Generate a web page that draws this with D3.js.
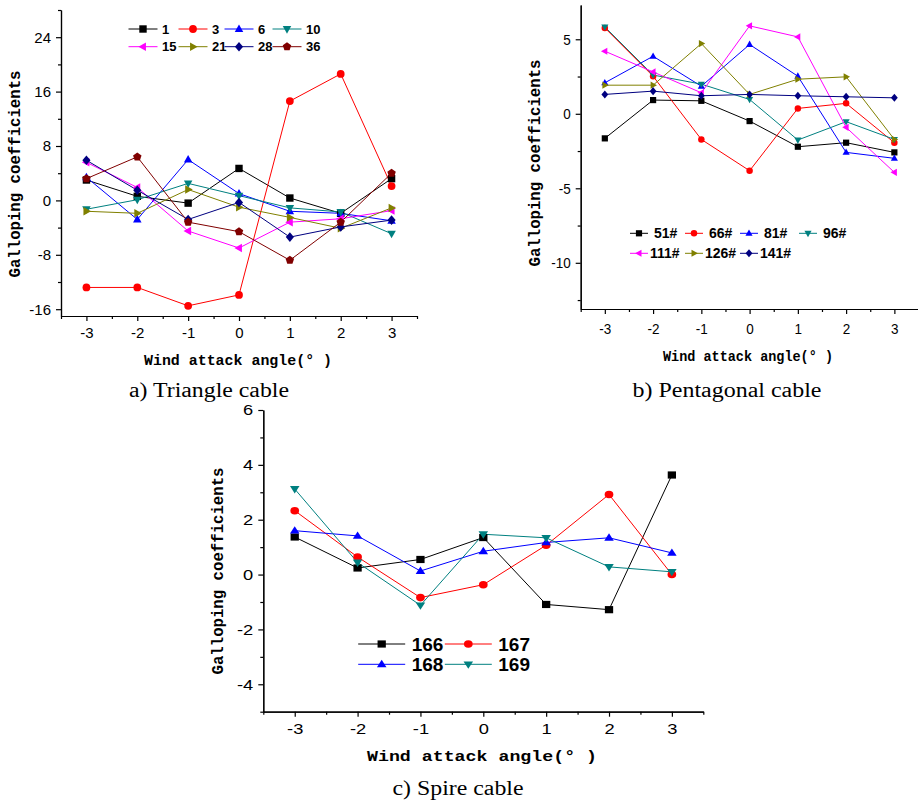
<!DOCTYPE html>
<html>
<head>
<meta charset="utf-8">
<script src="https://cdn.jsdelivr.net/npm/d3@7"></script>
<style>
  body { margin: 0; background: #fff; }
  svg { display: block; }
  .legend text { white-space: pre; }
</style>
</head>
<body>
<div id="fig"></div>
<script>
// wind attack angles (x categories)
var angles = [-3, -2, -1, 0, 1, 2, 3];

// a) Triangle cable
var triLabels = ["1", "3", "6", "10", "15", "21", "28", "36"];
var tri1  = [3.0, 0.6, -0.4, 4.7, 0.35, -1.9, 3.2];
var tri3  = [-12.8, -12.8, -15.5, -13.9, 14.6, 18.6, 2.1];
var tri6  = [3.4, -2.8, 6.0, 1.0, -1.6, -1.9, -3.0];
var tri10 = [-1.3, 0.1, 2.5, 0.7, -1.1, -1.7, -4.9];
var tri15 = [5.6, 1.9, -4.5, -7.0, -3.2, -2.7, -1.5];
var tri21 = [-1.6, -1.9, 1.6, -1.0, -2.5, -4.1, -1.1];
var tri28 = [5.9, 1.5, -2.8, -0.3, -5.4, -3.9, -2.9];
var tri36 = [3.2, 6.4, -3.2, -4.6, -8.8, -3.2, 4.0];
var triYTicks = [-16, -8, 0, 8, 16, 24];

// b) Pentagonal cable
var pentLabels = [" 51#", " 66#", " 81#", " 96#", "111#", "126#", "141#"];
var pent51  = [-1.65, 0.92, 0.87, -0.49, -2.21, -1.94, -2.59];
var pent66  = [5.76, 2.52, -1.72, -3.82, 0.36, 0.70, -1.94];
var pent81  = [2.08, 3.86, 1.85, 4.65, 2.52, -2.59, -2.99];
var pent96  = [5.83, 2.60, 1.99, 0.96, -1.76, -0.53, -1.72];
var pent111 = [4.20, 2.81, 1.41, 5.90, 5.16, -0.91, -3.93];
var pent126 = [1.92, 1.92, 4.71, 1.30, 2.32, 2.48, -1.72];
var pent141 = [1.30, 1.52, 1.21, 1.30, 1.21, 1.14, 1.07];
var pentYTicks = [-10, -5, 0, 5];

// c) Spire cable
var spireLabels = ["166", "167", "168", "169"];
var spire166 = [1.37, 0.24, 0.55, 1.35, -1.09, -1.28, 3.63];
var spire167 = [2.33, 0.64, -0.84, -0.37, 1.07, 2.92, 0.0];
var spire168 = [1.60, 1.41, 0.13, 0.85, 1.17, 1.34, 0.79];
var spire169 = [3.12, 0.44, -1.12, 1.47, 1.34, 0.28, 0.10];
var spireYTicks = [-4, -2, 0, 2, 4, 6];

// origin-style colours and symbols, in legend order
var colors = ["#000000", "#ff0000", "#0000ff", "#008080", "#ff00ff", "#808000", "#000080", "#800000"];
var shapes = ["square", "circle", "up", "down", "left", "right", "diamond", "pentagon"];

var svg = d3.select("#fig").append("svg")
    .attr("width", 918)
    .attr("height", 801);

// plain hyphen minus like the original
var plain = function(d) { return String(d); };

// marker path centred on 0,0
function markerPath(shape, r) {
    switch (shape) {
        case "square": return "M" + (-r) + "," + (-r) + "H" + r + "V" + r + "H" + (-r) + "Z";
        case "circle": return d3.symbol(d3.symbolCircle, Math.PI * r * r * 1.1)();
        case "up": return "M0," + (-r * 1.25) + "L" + (r * 1.15) + "," + (r * 0.8) + "L" + (-r * 1.15) + "," + (r * 0.8) + "Z";
        case "down": return "M0," + (r * 1.25) + "L" + (r * 1.15) + "," + (-r * 0.8) + "L" + (-r * 1.15) + "," + (-r * 0.8) + "Z";
        case "left": return "M" + (-r * 1.25) + ",0L" + (r * 0.8) + "," + (-r * 1.15) + "L" + (r * 0.8) + "," + (r * 1.15) + "Z";
        case "right": return "M" + (r * 1.25) + ",0L" + (-r * 0.8) + "," + (-r * 1.15) + "L" + (-r * 0.8) + "," + (r * 1.15) + "Z";
        case "diamond": return "M0," + (-r * 1.3) + "L" + (r * 1.1) + ",0L0," + (r * 1.3) + "L" + (-r * 1.1) + ",0Z";
        case "pentagon":
            var pts = d3.range(5).map(function(k) {
                var a = -Math.PI / 2 + k * 2 * Math.PI / 5;
                return [r * 1.2 * Math.cos(a), r * 1.2 * Math.sin(a)];
            });
            return "M" + pts.join("L") + "Z";
    }
}

function drawPanel(p) {
    var x = d3.scaleLinear().domain([-3.5, 3.5]).range([p.left, p.right]);
    var y = d3.scaleLinear().domain(p.yDomain).range([p.bottom, p.top]);
    var g = svg.append("g");

    // minor ticks
    var xMinor = d3.range(-3.5, 3.51, 0.5).filter(function(v) { return v % 1 !== 0; });
    var yMinor = d3.range(Math.ceil(p.yDomain[0] / p.yMinor) * p.yMinor, p.yDomain[1] + 1e-6, p.yMinor)
        .filter(function(v) { return p.yTicks.indexOf(v) < 0; });

    g.append("g").attr("transform", "translate(0," + p.bottom + ")")
        .call(d3.axisBottom(x).tickValues(xMinor).tickSize(3).tickSizeOuter(0).tickFormat(""));
    g.append("g").attr("transform", "translate(" + p.left + ",0)")
        .call(d3.axisLeft(y).tickValues(yMinor).tickSize(3).tickSizeOuter(0).tickFormat(""));

    var xAxis = g.append("g").attr("transform", "translate(0," + p.bottom + ")")
        .call(d3.axisBottom(x).tickValues(angles).tickFormat(plain).tickSize(5).tickPadding(p.xPad).tickSizeOuter(0));
    var yAxis = g.append("g").attr("transform", "translate(" + p.left + ",0)")
        .call(d3.axisLeft(y).tickValues(p.yTicks).tickFormat(plain).tickSize(5).tickPadding(5).tickSizeOuter(0));

    [xAxis, yAxis].forEach(function(a) {
        a.selectAll("text").attr("font-family", "'Liberation Sans', Arial, sans-serif")
            .attr("font-size", 15).attr("fill", "#000")
            .attr("transform", "scale(" + p.sx + ",1)");
    });
    yAxis.selectAll("text").attr("x", -10 / p.sx);
    g.selectAll("path.domain, .tick line").attr("stroke", "#000").attr("stroke-width", 1.2);

    // series
    var line = d3.line().x(function(d, i) { return x(angles[i]); }).y(function(d) { return y(d); });
    p.series.forEach(function(s, k) {
        g.append("path").datum(s)
            .attr("d", line)
            .attr("fill", "none")
            .attr("stroke", colors[k])
            .attr("stroke-width", 1);
    });
    p.series.forEach(function(s, k) {
        g.selectAll(null).data(s).enter().append("path")
            .attr("d", markerPath(shapes[k], p.r))
            .attr("transform", function(d, i) { return "translate(" + x(angles[i]) + "," + y(d) + ") scale(" + p.mx + ",1)"; })
            .attr("fill", colors[k]);
    });

    // axis titles
    g.append("text")
        .attr("transform", "translate(" + p.yTitleX + "," + p.yTitleY + ") rotate(-90)")
        .attr("text-anchor", "middle")
        .attr("dy", "0.35em")
        .attr("font-family", "'Liberation Mono', 'Courier New', monospace")
        .attr("font-weight", "bold")
        .attr("font-size", 15.7)
        .attr("textLength", 207)
        .attr("lengthAdjust", "spacingAndGlyphs")
        .text("Galloping coefficients");

    g.append("text")
        .attr("x", p.xTitleX)
        .attr("y", p.xTitleBase)
        .attr("text-anchor", "middle")
        .attr("font-family", "'Liberation Mono', 'Courier New', monospace")
        .attr("font-weight", "bold")
        .attr("font-size", 15)
        .attr("textLength", p.xTitleLen)
        .attr("lengthAdjust", "spacingAndGlyphs")
        .text("Wind attack angle(° )");

    // caption
    g.append("text")
        .attr("x", p.capX)
        .attr("y", p.capBase)
        .attr("text-anchor", "middle")
        .attr("font-family", "'Liberation Serif', 'Times New Roman', serif")
        .attr("font-size", 20)
        .attr("textLength", p.capLen)
        .attr("lengthAdjust", "spacingAndGlyphs")
        .text(p.caption);

    // legend
    var lg = g.append("g").attr("class", "legend");
    p.labels.forEach(function(lab, k) {
        var cx = p.legCols[k % p.legN], cy = p.legRows[Math.floor(k / p.legN)];
        lg.append("line")
            .attr("x1", cx - p.legHalf).attr("x2", cx + p.legHalf)
            .attr("y1", cy).attr("y2", cy)
            .attr("stroke", colors[k]).attr("stroke-width", 1);
        lg.append("path")
            .attr("d", markerPath(shapes[k], p.r))
            .attr("transform", "translate(" + cx + "," + cy + ") scale(" + p.mx + ",1)")
            .attr("fill", colors[k]);
        lg.append("text")
            .attr("x", cx + p.legText)
            .attr("y", cy)
            .attr("dy", "0.36em")
            .attr("font-family", "'Liberation Sans', Arial, sans-serif")
            .attr("font-weight", "bold")
            .attr("font-size", p.legFont)
            .text(lab);
    });
}

drawPanel({
    left: 61, right: 417, top: 10, bottom: 316,
    yDomain: [-17, 28], yTicks: triYTicks, yMinor: 4,
    xPad: 6, sx: 1, r: 3.7, mx: 1,
    series: [tri1, tri3, tri6, tri10, tri15, tri21, tri28, tri36],
    labels: triLabels,
    legCols: [143, 193, 239, 287], legRows: [29, 46.7], legN: 4,
    legHalf: 14.5, legText: 19, legFont: 13,
    yTitleX: 14, yTitleY: 174,
    xTitleX: 238, xTitleBase: 365, xTitleLen: 188,
    capX: 209, capBase: 397, capLen: 160, caption: "a) Triangle cable"
});

drawPanel({
    left: 580.7, right: 918.5, top: 5, bottom: 309,
    yDomain: [-13.1, 7.3], yTicks: pentYTicks, yMinor: 2.5,
    xPad: 9, sx: 0.9, r: 3.1, mx: 1,
    series: [pent51, pent66, pent81, pent96, pent111, pent126, pent141],
    labels: pentLabels,
    legCols: [639, 694, 749, 808], legRows: [233.3, 253.3], legN: 4,
    legHalf: 9, legText: 11, legFont: 14,
    yTitleX: 534, yTitleY: 163,
    xTitleX: 748, xTitleBase: 361, xTitleLen: 170,
    capX: 727, capBase: 397, capLen: 189, caption: "b) Pentagonal cable"
});

drawPanel({
    left: 263.3, right: 703.3, top: 410, bottom: 711.7,
    yDomain: [-5, 6], yTicks: spireYTicks, yMinor: 1,
    xPad: 6.5, sx: 1.22, r: 3.6, mx: 1.15,
    series: [spire166, spire167, spire168, spire169],
    labels: spireLabels,
    legCols: [381.7, 468.3], legRows: [644, 664.3], legN: 2,
    legHalf: 23.5, legText: 30, legFont: 19,
    yTitleX: 217, yTitleY: 571,
    xTitleX: 482, xTitleBase: 761, xTitleLen: 230,
    capX: 458, capBase: 795, capLen: 131, caption: "c) Spire cable"
});
</script>
</body>
</html>
